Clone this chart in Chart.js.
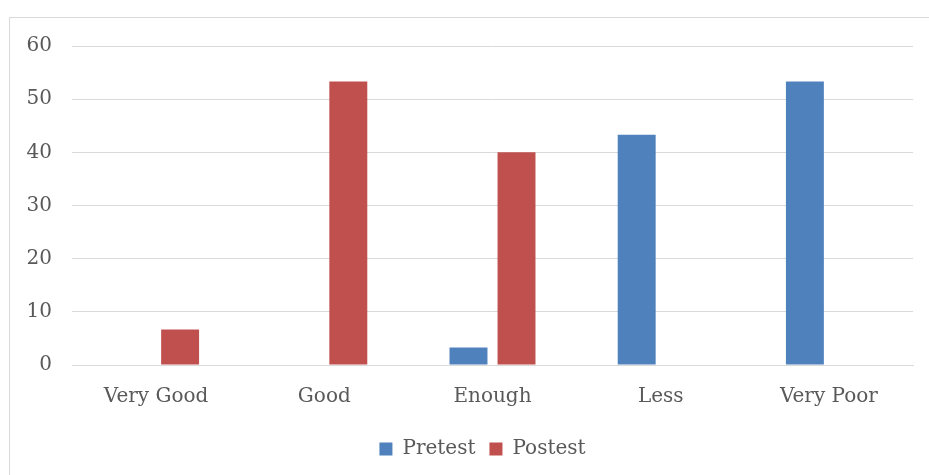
<!DOCTYPE html>
<html>
<head>
<meta charset="utf-8">
<script src="https://cdn.jsdelivr.net/npm/chart.js@4.4.0/dist/chart.umd.min.js"></script>
<style>
  html, body { margin: 0; padding: 0; background: #fff; }
  #wrap { position: relative; width: 929px; height: 475px; overflow: hidden; }
  #frame { position: absolute; left: 9px; top: 17px; width: 960px; height: 500px; border: 1px solid #d9d9d9; }
  #chart { position: absolute; left: 0; top: 0; }
</style>
</head>
<body>
<div id="wrap">
  <div id="frame"></div>
  <canvas id="chart" width="929" height="475"></canvas>
</div>
<script>
// categorias e valores
const categories = ["Very Good", "Good", "Enough", "Less", "Very Poor"];
const pretest = [0, 0, 3.3, 43.3, 53.3];
const postest = [6.7, 53.3, 40, 0, 0];
const yTicks = [0, 10, 20, 30, 40, 50, 60];

const fontFam = "'DejaVu Serif', serif";
const textColor = "#595959";

// ajusta a posicao da legenda (centro do quadro)
const shiftLegend = {
  id: "shiftLegend",
  afterLayout: function (chart) {
    if (chart.legend) {
      chart.legend.left += 26;
      chart.legend.right += 26;
      chart.legend.top -= 4;
      chart.legend.bottom -= 4;
    }
  },
};

new Chart(document.getElementById("chart"), {
  type: "bar",
  data: {
    labels: categories,
    datasets: [
      {
        label: "Pretest",
        data: pretest,
        backgroundColor: "#4F81BD",
        borderWidth: 0,
      },
      {
        label: "Postest",
        data: postest,
        backgroundColor: "#C0504D",
        borderWidth: 0,
      },
    ],
  },
  plugins: [shiftLegend],
  options: {
    responsive: false,
    animation: false,
    categoryPercentage: 0.571,
    barPercentage: 0.79,
    layout: {
      padding: { top: 46, right: 16, bottom: 2, left: 0 },
    },
    plugins: {
      legend: {
        display: true,
        position: "bottom",
        labels: {
          boxWidth: 13,
          boxHeight: 13,
          padding: 14,
          color: textColor,
          font: { family: fontFam, size: 20 },
        },
      },
      tooltip: { enabled: false },
    },
    scales: {
      x: {
        grid: { display: false, drawTicks: false },
        border: { display: true, color: "#d9d9d9", width: 1 },
        ticks: {
          color: textColor,
          padding: 20,
          font: { family: fontFam, size: 20 },
        },
      },
      y: {
        min: 0,
        max: 60,
        afterFit: function (scale) {
          scale.width = 72;
        },
        afterBuildTicks: function (scale) {
          scale.ticks = yTicks.map(function (v) { return { value: v }; });
        },
        grid: { color: "#d9d9d9", lineWidth: 1, drawTicks: false },
        border: { display: false },
        ticks: {
          color: textColor,
          padding: 20,
          font: { family: fontFam, size: 20 },
        },
      },
    },
  },
});
</script>
</body>
</html>
